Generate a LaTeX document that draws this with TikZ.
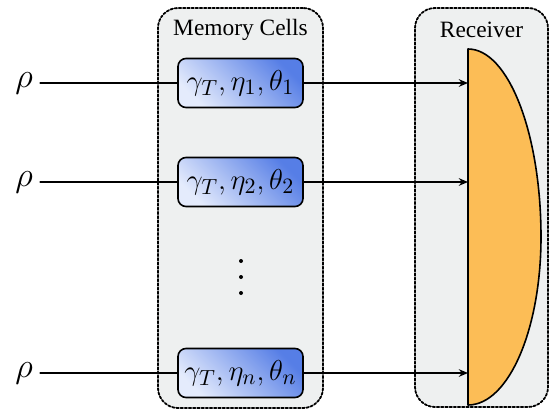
\documentclass[tikz,border=0pt]{standalone}
\usepackage[no-math]{fontspec}
\setmainfont{Liberation Serif}
\usetikzlibrary{arrows.meta}
\definecolor{panelgray}{RGB}{238,240,240}
\definecolor{celllight}{RGB}{228,235,252}
\definecolor{celldark}{RGB}{86,126,230}
\definecolor{recvorange}{RGB}{252,189,86}
\tikzset{
	panel/.style={draw, line width=0.9pt, dash pattern=on 1.2pt off 0.9pt, fill=panelgray, rounded corners=10pt},
	cell/.style={draw, line width=0.8pt, rounded corners=4pt, inner sep=1pt, minimum width=62.5pt, minimum height=24.5pt,
		top color=celldark, bottom color=celllight, shading angle=-45, font=\fontsize{15.3}{18}\selectfont},
	flow/.style={line width=0.7pt}
}
\begin{document}
\begin{tikzpicture}[x=0.5pt, y=0.5pt, line join=round, line cap=round, >={Stealth[length=4.6pt,width=3.8pt]}, font=\fontsize{11.7}{14}\selectfont]
	\def \rx{468};
	\def \cx{240.5};
	\useasboundingbox (0,0) rectangle (551,414);
	% panels
	\node[panel, minimum width=82.5pt, minimum height=200pt] (mem) at (\cx,206) {};
	\node[panel, minimum width=66.5pt, minimum height=199.5pt] (rec) at (481.5,206.5) {};
	\node (memlabel) at (\cx,384) {Memory Cells};
	\node (reclabel) at (481.5,384) {Receiver};
	% receiver
	\draw[line width=0.8pt, fill=recvorange] (\rx,365)
		arc[start angle=90, end angle=0, x radius=36.5pt, y radius=94pt]
		arc[start angle=0, end angle=-90, x radius=36.5pt, y radius=84pt] -- cycle;
	\coordinate (rx) at (\rx,0);
	% cells and inputs
	\foreach \i/\y in {1/331, 2/232, n/41} {
		\node[cell] (cell\i) at (\cx,\y) {$\gamma_T,\eta_\i,\theta_\i$};
		\node[inner sep=3.5pt, font=\fontsize{16.5}{20}\selectfont] (rho\i) at (24,\y) {$\rho$};
		\draw[flow] (rho\i.east) -- (cell\i.west);
		\draw[flow,->] (cell\i.east) -- (cell\i.east -| rx);
	}
	\foreach \d in {121,137,153}
		\fill (241,\d) circle (1pt);
\end{tikzpicture}
\end{document}
